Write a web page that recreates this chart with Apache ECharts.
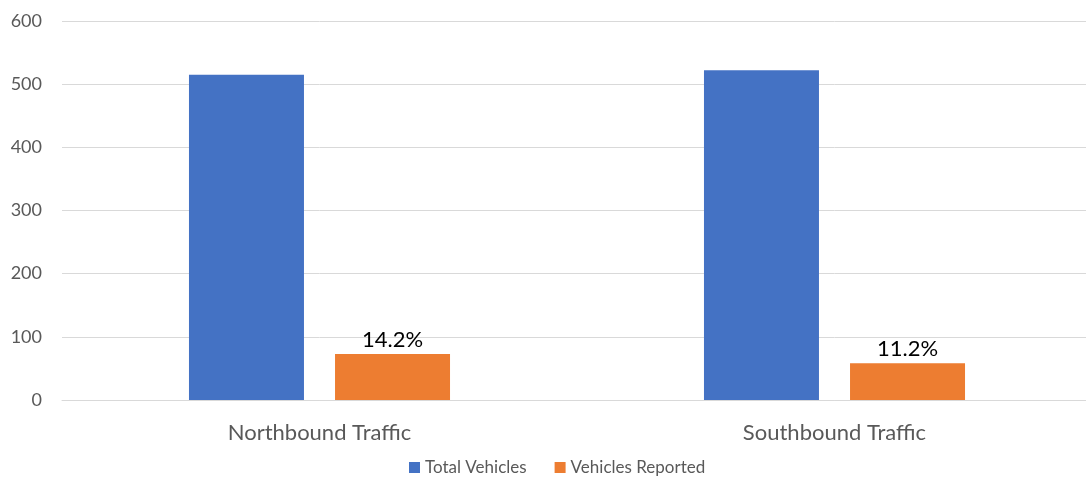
<!DOCTYPE html>
<html>
<head>
<meta charset="utf-8">
<script src="https://cdn.jsdelivr.net/npm/echarts@6/dist/echarts.min.js"></script>
<style>
  html, body { margin: 0; padding: 0; background: #fff; overflow: hidden; }
  #chart { width: 1092px; height: 478px; }
</style>
</head>
<body>
<div id="chart"></div>
<script>
var categories = ['Northbound Traffic', 'Southbound Traffic'];
var seriesNames = ['Total Vehicles', 'Vehicles Reported'];
var totalVehicles = [515, 522];
var vehiclesReported = [73, 58];
var reportedLabels = ['14.2%', '11.2%'];
var yTicks = [0, 100, 200, 300, 400, 500, 600];

var fontName = 'Lato, "Open Sans", sans-serif';
var chart = echarts.init(document.getElementById('chart'));

chart.setOption({
  animation: false,
  backgroundColor: '#ffffff',
  textStyle: { fontFamily: fontName },
  legend: {
    data: seriesNames,
    bottom: -3,
    left: 404,
    icon: 'rect',
    itemWidth: 11,
    itemHeight: 11,
    itemGap: 28,
    itemStyle: { borderWidth: 0 },
    textStyle: { color: '#595959', fontSize: 17, fontFamily: fontName }
  },
  grid: {
    left: 62,
    right: 0,
    top: 21,
    height: 379
  },
  xAxis: {
    type: 'category',
    data: categories,
    axisLine: { show: true, lineStyle: { color: '#d9d9d9' } },
    axisTick: { show: false },
    axisLabel: { color: '#595959', fontSize: 22, margin: 22, fontFamily: fontName }
  },
  yAxis: {
    type: 'value',
    min: yTicks[0],
    max: yTicks[yTicks.length - 1],
    interval: 100,
    axisLine: { show: false },
    axisTick: { show: false },
    axisLabel: { color: '#595959', fontSize: 18, margin: 20, fontFamily: fontName },
    splitLine: { lineStyle: { color: '#d9d9d9' } }
  },
  series: [
    {
      name: seriesNames[0],
      type: 'bar',
      data: totalVehicles,
      barWidth: 115,
      barGap: '27%',
      itemStyle: { color: '#4472c4' }
    },
    {
      name: seriesNames[1],
      type: 'bar',
      data: vehiclesReported,
      barWidth: 115,
      itemStyle: { color: '#ed7d31' },
      label: {
        show: true,
        position: 'top',
        distance: 3,
        color: '#000000',
        fontSize: 22,
        fontFamily: fontName,
        formatter: function (p) { return reportedLabels[p.dataIndex]; }
      }
    }
  ]
});
</script>
</body>
</html>
